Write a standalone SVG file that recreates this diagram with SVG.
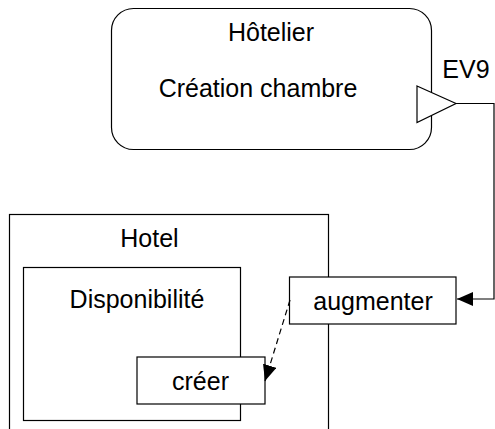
<svg xmlns="http://www.w3.org/2000/svg" width="495" height="429" viewBox="0 0 495 429">
<style>
.b{fill:#fff;stroke:#000;stroke-width:1.2}
.t{font-family:"Liberation Sans",Arial,sans-serif;font-size:25px;fill:#000;text-anchor:middle}
.c{fill:none;stroke:#000;stroke-width:1.2}
</style>
<defs>
<marker id="ah" viewBox="0 0 16 14" refX="16" refY="7" markerWidth="16" markerHeight="14" markerUnits="userSpaceOnUse" orient="auto">
<path d="M0,0 L16,7 L0,14 Z" fill="#000"/>
</marker>
</defs>
<g id="hotelier">
<rect class="b" x="111.5" y="8.5" width="320" height="141" rx="22" ry="22"/>
<text class="t" x="271" y="41">Hôtelier</text>
<text class="t" x="258" y="97">Création chambre</text>
</g>
<g id="ev9">
<polygon class="b" points="417,86 456,103.5 417,122.5"/>
<text class="t" x="466" y="78">EV9</text>
</g>
<g id="hotel">
<rect class="b" x="9.5" y="214.5" width="319" height="230"/>
<text class="t" x="149.5" y="247">Hotel</text>
</g>
<g id="disponibilite">
<rect class="b" x="23.5" y="267.5" width="217" height="153"/>
<text class="t" x="137" y="308">Disponibilité</text>
</g>
<g id="creer">
<rect class="b" x="137" y="357" width="128" height="47"/>
<text class="t" x="200.5" y="390">créer</text>
</g>
<g id="augmenter">
<rect class="b" x="289.5" y="277" width="166.5" height="47"/>
<text class="t" x="373" y="310">augmenter</text>
</g>
<g id="connectors">
<path class="c" d="M456,103.5 H494 V299 H457" marker-end="url(#ah)"/>
<path class="c" d="M290,300 L265,381" stroke-dasharray="6,4" marker-end="url(#ah)"/>
</g>
</svg>
